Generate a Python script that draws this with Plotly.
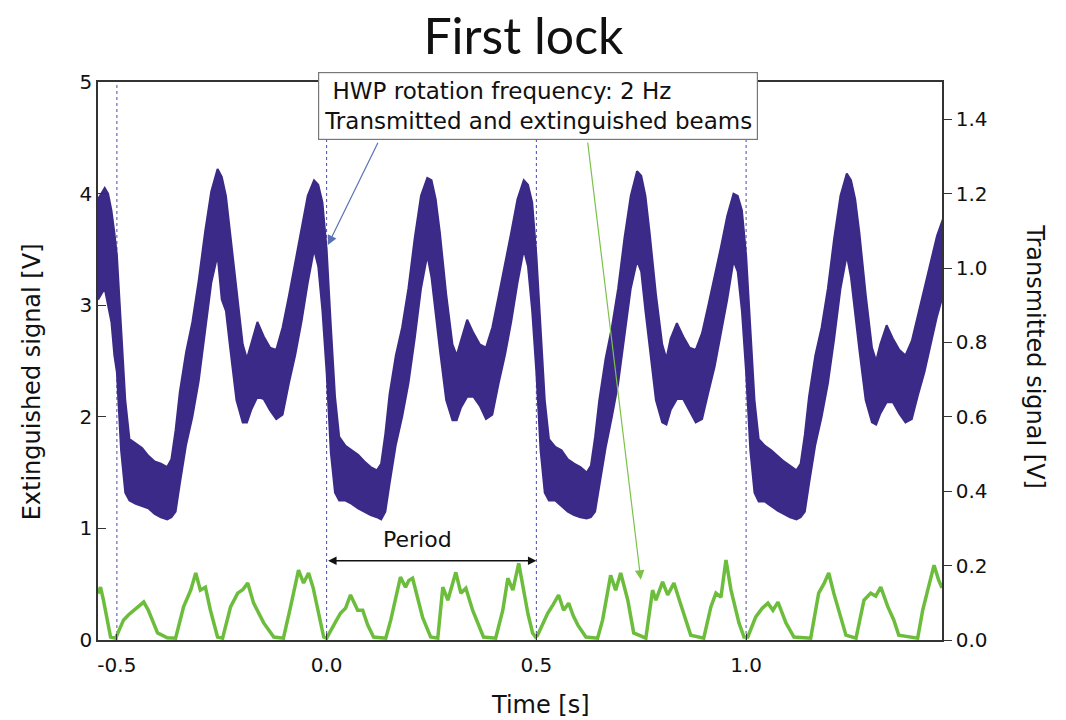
import plotly.graph_objects as go

# ---------------- data ----------------
period_starts = [-0.5, 0.0, 0.5, 1.0]
offsets = [0.000, 0.010, 0.020, 0.030, 0.045, 0.060, 0.075, 0.090, 0.105, 0.120,
           0.130, 0.140, 0.150, 0.165, 0.180, 0.195, 0.210, 0.225, 0.240, 0.250,
           0.260, 0.270, 0.285, 0.300, 0.310, 0.320, 0.335, 0.350, 0.365, 0.380,
           0.395, 0.410, 0.425, 0.440, 0.455, 0.470, 0.480, 0.490]

# lead-in before t = -0.5
lead_t = [-0.545, -0.537, -0.529, -0.521, -0.513, -0.506]
lead_hi = [3.95, 4.00, 4.05, 4.00, 3.85, 3.65]
lead_lo = [3.05, 3.10, 3.15, 3.00, 2.85, 2.55]

# extinguished signal: upper / lower edge of the noisy band, per period
ext_hi_a = [3.45, 2.80, 2.15, 1.80, 1.76, 1.72, 1.65, 1.60, 1.58, 1.55, 1.62, 1.88, 2.22,
            2.58, 2.85, 3.22, 3.65, 4.02, 4.22, 4.15, 3.98, 3.65, 3.10, 2.65, 2.52, 2.65,
            2.85, 2.72, 2.62, 2.60, 2.80, 3.08, 3.38, 3.68, 3.98, 4.12, 4.08, 3.92]
ext_lo_a = [2.40, 1.70, 1.32, 1.25, 1.22, 1.20, 1.18, 1.13, 1.10, 1.08, 1.10, 1.15, 1.40,
            1.75, 2.00, 2.32, 2.75, 3.20, 3.45, 3.05, 2.95, 2.62, 2.15, 1.95, 1.95, 2.06,
            2.18, 2.16, 2.06, 1.98, 2.02, 2.30, 2.55, 2.85, 3.20, 3.50, 3.35, 2.95]
ext_hi_b = [3.50, 2.82, 2.18, 1.82, 1.74, 1.70, 1.66, 1.60, 1.55, 1.52, 1.58, 1.85, 2.20,
            2.55, 2.80, 3.15, 3.60, 3.98, 4.14, 4.12, 3.95, 3.65, 3.10, 2.65, 2.55, 2.68,
            2.87, 2.75, 2.65, 2.62, 2.80, 3.08, 3.35, 3.65, 3.95, 4.12, 4.08, 3.92]
ext_lo_b = [2.40, 1.68, 1.32, 1.25, 1.25, 1.22, 1.18, 1.15, 1.12, 1.10, 1.08, 1.15, 1.40,
            1.75, 2.00, 2.30, 2.70, 3.15, 3.45, 3.25, 2.95, 2.60, 2.15, 1.97, 1.97, 2.08,
            2.18, 2.18, 2.10, 1.98, 2.02, 2.30, 2.55, 2.85, 3.20, 3.50, 3.35, 2.95]
ext_hi_c = [3.45, 2.80, 2.15, 1.80, 1.73, 1.70, 1.62, 1.58, 1.55, 1.50, 1.56, 1.82, 2.15,
            2.52, 2.80, 3.15, 3.60, 3.98, 4.20, 4.16, 3.98, 3.65, 3.10, 2.65, 2.52, 2.70,
            2.84, 2.72, 2.62, 2.60, 2.75, 3.00, 3.25, 3.52, 3.80, 4.00, 3.98, 3.85]
ext_lo_c = [2.40, 1.70, 1.32, 1.25, 1.25, 1.20, 1.15, 1.12, 1.10, 1.09, 1.10, 1.15, 1.38,
            1.72, 2.00, 2.30, 2.70, 3.15, 3.40, 3.30, 2.95, 2.60, 2.15, 1.95, 1.93, 2.06,
            2.16, 2.16, 2.06, 1.95, 1.98, 2.22, 2.45, 2.75, 3.05, 3.40, 3.30, 2.95]
ext_hi_d = [3.45, 2.80, 2.15, 1.80, 1.74, 1.70, 1.65, 1.60, 1.56, 1.52, 1.58, 1.84, 2.18,
            2.55, 2.80, 3.15, 3.60, 3.98, 4.18, 4.12, 3.95, 3.65, 3.10, 2.62, 2.50, 2.65,
            2.82, 2.70, 2.60, 2.55, 2.68, 2.92, 3.15, 3.40, 3.62, 3.78]
ext_lo_d = [2.40, 1.70, 1.32, 1.24, 1.24, 1.20, 1.16, 1.13, 1.10, 1.08, 1.10, 1.15, 1.40,
            1.75, 2.00, 2.30, 2.70, 3.15, 3.45, 3.25, 2.95, 2.60, 2.15, 1.95, 1.93, 2.03,
            2.13, 2.13, 2.03, 1.95, 1.98, 2.20, 2.40, 2.65, 2.90, 3.10]

# transmitted signal (right axis)
green_t = [-0.545, -0.539, -0.532, -0.522, -0.515, -0.503, -0.484, -0.472, -0.460, -0.448,
           -0.436, -0.425, -0.414, -0.403, -0.380, -0.360, -0.341, -0.324, -0.312, -0.301,
           -0.289, -0.277, -0.260, -0.248, -0.229, -0.212, -0.200, -0.188, -0.174, -0.150,
           -0.126, -0.103, -0.086, -0.067, -0.055, -0.043, -0.032, -0.021, -0.007,
           0.000, 0.010, 0.022, 0.033, 0.045, 0.057, 0.066, 0.074, 0.086, 0.098, 0.112,
           0.141, 0.153, 0.165, 0.176, 0.188, 0.196, 0.205, 0.217, 0.229, 0.241, 0.248,
           0.265, 0.277, 0.289, 0.299, 0.308, 0.320, 0.332, 0.348, 0.367, 0.374, 0.403,
           0.420, 0.432, 0.444, 0.458, 0.470, 0.480, 0.491, 0.498,
           0.503, 0.515, 0.527, 0.540, 0.553, 0.565, 0.577, 0.588, 0.599, 0.618, 0.646,
           0.658, 0.668, 0.677, 0.689, 0.701, 0.718, 0.732, 0.761, 0.777, 0.785, 0.801,
           0.813, 0.828, 0.840, 0.851, 0.868, 0.899, 0.916, 0.928, 0.940, 0.952, 0.964,
           0.983, 0.995,
           1.004, 1.023, 1.038, 1.052, 1.064, 1.076, 1.095, 1.114, 1.154, 1.173, 1.185,
           1.197, 1.209, 1.226, 1.238, 1.262, 1.281, 1.297, 1.309, 1.321, 1.338, 1.352,
           1.364, 1.409, 1.421, 1.433, 1.448, 1.459, 1.467]
green_v = [0.125, 0.142, 0.107, 0.054, 0.008, 0.005, 0.054, 0.068, 0.080, 0.090,
           0.102, 0.080, 0.050, 0.019, 0.006, 0.005, 0.089, 0.134, 0.180, 0.134,
           0.142, 0.080, 0.008, 0.005, 0.089, 0.126, 0.135, 0.153, 0.099, 0.046,
           0.008, 0.005, 0.089, 0.188, 0.153, 0.180, 0.140, 0.080, 0.008,
           0.005, 0.027, 0.050, 0.072, 0.085, 0.121, 0.098, 0.080, 0.080, 0.040, 0.008,
           0.005, 0.054, 0.110, 0.169, 0.142, 0.160, 0.166, 0.115, 0.060, 0.027, 0.008,
           0.005, 0.142, 0.107, 0.150, 0.182, 0.126, 0.139, 0.080, 0.027, 0.008, 0.005,
           0.080, 0.166, 0.134, 0.206, 0.134, 0.070, 0.019, 0.008,
           0.013, 0.040, 0.072, 0.095, 0.121, 0.080, 0.099, 0.065, 0.040, 0.008, 0.005,
           0.054, 0.120, 0.174, 0.134, 0.180, 0.107, 0.019, 0.005, 0.134, 0.107, 0.156,
           0.121, 0.153, 0.110, 0.072, 0.013, 0.005, 0.089, 0.126, 0.115, 0.215, 0.134,
           0.046, 0.008,
           0.008, 0.062, 0.085, 0.099, 0.080, 0.102, 0.046, 0.008, 0.005, 0.126, 0.150,
           0.180, 0.126, 0.062, 0.013, 0.005, 0.107, 0.126, 0.118, 0.142, 0.089, 0.054,
           0.013, 0.005, 0.080, 0.134, 0.201, 0.161, 0.140]

x_tick_vals = [-0.5, 0.0, 0.5, 1.0]
x_tick_text = ["-0.5", "0.0", "0.5", "1.0"]
y_tick_vals = [0, 1, 2, 3, 4, 5]
y2_tick_vals = [0.0, 0.2, 0.4, 0.6, 0.8, 1.0, 1.2, 1.4]
y2_tick_text = ["0.0", "0.2", "0.4", "0.6", "0.8", "1.0", "1.2", "1.4"]

# ---------------- build band polygon ----------------
DARK = "#3b2a88"
GREEN = "#6dbd3d"
DOT = "#4b4ba8"

band_t = list(lead_t)
band_hi = list(lead_hi)
band_lo = list(lead_lo)
for p0, hi, lo in zip(period_starts,
                      [ext_hi_a, ext_hi_b, ext_hi_c, ext_hi_d],
                      [ext_lo_a, ext_lo_b, ext_lo_c, ext_lo_d]):
    for off, h, l in zip(offsets, hi, lo):
        band_t.append(round(p0 + off, 4))
        band_hi.append(h)
        band_lo.append(l)

poly_x = band_t + band_t[::-1]
poly_y = band_hi + band_lo[::-1]

fig = go.Figure()
fig.add_trace(go.Scatter(x=poly_x, y=poly_y, mode="lines", fill="toself",
                         fillcolor=DARK, line=dict(color=DARK, width=2),
                         hoverinfo="skip", showlegend=False))
fig.add_trace(go.Scatter(x=green_t, y=green_v, yaxis="y2", mode="lines",
                         line=dict(color=GREEN, width=3.5), showlegend=False))

# dotted period markers
for xv in x_tick_vals:
    fig.add_shape(type="line", xref="x", yref="paper", x0=xv, x1=xv, y0=0, y1=1,
                  line=dict(color=DOT, width=1, dash="dot"), layer="below")

FONT = "DejaVu Sans"
ann = []
ann.append(dict(xref="paper", yref="paper", x=0.521, y=0.957,
                text=" HWP rotation frequency: 2 Hz<br>Transmitted and extinguished beams",
                showarrow=False, align="left", xanchor="center", yanchor="middle",
                font=dict(family=FONT, size=23, color="#111"),
                bgcolor="white", bordercolor="#777", borderwidth=1.2, borderpad=5))
# blue arrow
ann.append(dict(xref="x", yref="y", axref="x", ayref="y", x=0.003, y=3.54, ax=0.124, ay=4.47,
                text="", showarrow=True, arrowhead=2, arrowsize=1.6, arrowwidth=1.2,
                arrowcolor="#5a72b5"))
# green arrow
ann.append(dict(xref="x", yref="y", axref="x", ayref="y", x=0.749, y=0.54, ax=0.622, ay=4.47,
                text="", showarrow=True, arrowhead=2, arrowsize=1.6, arrowwidth=1.2,
                arrowcolor="#7cc24a"))
# period double arrow
ann.append(dict(xref="x", yref="y", axref="x", ayref="y", x=0.5, y=0.71, ax=0.0, ay=0.71,
                text="", showarrow=True, arrowhead=2, startarrowhead=2, arrowside="end+start",
                arrowsize=1.3, startarrowsize=1.3, arrowwidth=1.3, arrowcolor="#111"))
ann.append(dict(xref="x", yref="y", x=0.217, y=0.90, text="Period", showarrow=False,
                xanchor="center", yanchor="middle",
                font=dict(family=FONT, size=22, color="#111")))
# axis titles
ann.append(dict(xref="paper", yref="paper", x=-0.078, y=0.462, text="Extinguished signal [V]",
                textangle=-90, showarrow=False, xanchor="center", yanchor="middle",
                font=dict(family=FONT, size=24, color="#111")))
ann.append(dict(xref="paper", yref="paper", x=1.110, y=0.507, text="Transmitted signal [V]",
                textangle=90, showarrow=False, xanchor="center", yanchor="middle",
                font=dict(family=FONT, size=24, color="#111")))
ann.append(dict(xref="paper", yref="paper", x=0.524, y=-0.116, text="Time [s]",
                showarrow=False, xanchor="center", yanchor="middle",
                font=dict(family=FONT, size=24, color="#111")))

axis_common = dict(showline=True, linecolor="#333", linewidth=1.5, showgrid=False,
                   zeroline=False, tickcolor="#333", tickfont=dict(family=FONT, size=20, color="#111"))

fig.update_layout(
    width=1066, height=720,
    margin=dict(l=98, r=124, t=82, b=80),
    plot_bgcolor="white", paper_bgcolor="white",
    title=dict(text="First lock", x=0.491, xref="container", xanchor="center",
               y=0.95, yref="container", yanchor="middle",
               font=dict(family="Lato", size=50, color="#111")),
    xaxis=dict(range=[-0.545, 1.467], tickvals=x_tick_vals, ticktext=x_tick_text,
               ticks="inside", ticklen=6, mirror=True, ticklabelstandoff=6, **axis_common),
    yaxis=dict(range=[0, 5], tickvals=y_tick_vals, ticks="inside", ticklen=8, **axis_common),
    yaxis2=dict(range=[0, 1.5], tickvals=y2_tick_vals, ticktext=y2_tick_text, overlaying="y",
                side="right", ticks="outside", ticklen=8, **axis_common),
    annotations=ann,
    showlegend=False,
)

fig.write_html("out.html")
